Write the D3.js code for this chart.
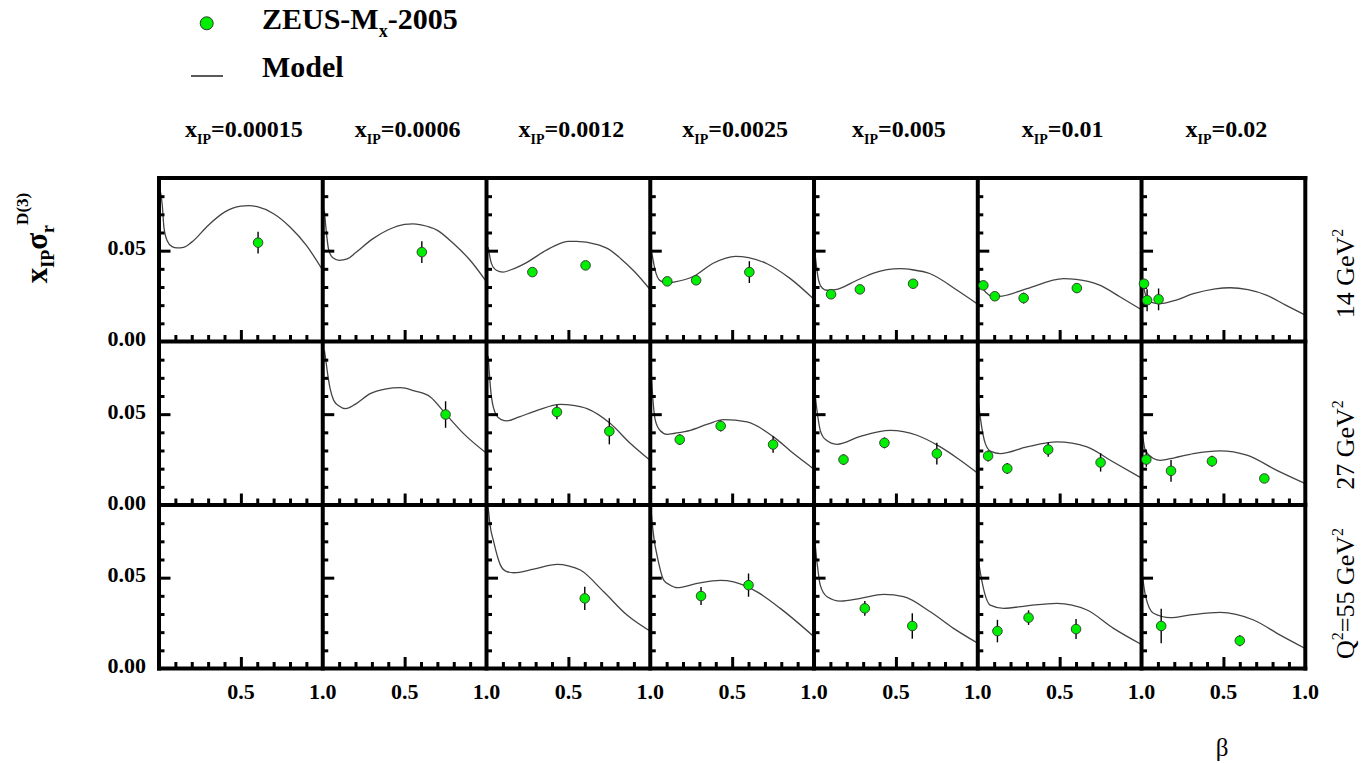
<!DOCTYPE html>
<html>
<head>
<meta charset="utf-8">
<script src="https://cdn.jsdelivr.net/npm/d3@7"></script>
<style>
  html, body { margin: 0; padding: 0; background: #fff; }
  svg text { font-family: "Liberation Serif", "Times New Roman", Times, serif; fill: #000; }
</style>
</head>
<body>
<svg id="chart" width="1366" height="763"></svg>
<script>
// x_IP values heading each column
const xipLabels = ["0.00015", "0.0006", "0.0012", "0.0025", "0.005", "0.01", "0.02"];

// Q^2 values labelling each row (segments: [text, isSuperscript])
const rowLabels = [
  [["14 GeV", 0], ["2", 1]],
  [["27 GeV", 0], ["2", 1]],
  [["Q", 0], ["2", 1], ["=55 GeV", 0], ["2", 1]]
];

// axis ticks
const yTickLabels = [0.00, 0.05];
const xTickLabels = [0.5, 1.0];
const yMinorTicks = [0.01, 0.02, 0.03, 0.04, 0.06, 0.07, 0.08];
const yMajorTicks = [0.05];
const xMinorTicks = [0.1, 0.2, 0.3, 0.4, 0.6, 0.7, 0.8, 0.9];
const xMajorTicks = [0.5];

// Model curves, [beta, x_IP*sigma_r] per column (null = no curve)
const modelQ14 = [
  [[0.01,0.082],[0.02,0.075],[0.03,0.063],[0.05,0.0555],[0.08,0.0522],[0.11,0.0515],[0.15,0.0518],[0.2,0.0547],[0.3,0.0639],[0.4,0.0712],[0.5,0.0745],[0.55,0.0748],[0.6,0.0742],[0.7,0.0703],[0.8,0.063],[0.9,0.0529],[1.0,0.0392]],
  [[0.01,0.072],[0.02,0.062],[0.035,0.051],[0.06,0.0462],[0.1,0.0447],[0.15,0.0455],[0.2,0.0488],[0.3,0.0562],[0.4,0.0615],[0.5,0.0645],[0.55,0.0648],[0.6,0.0642],[0.7,0.0612],[0.8,0.0538],[0.9,0.0447],[1.0,0.0328]],
  [[0.01,0.052],[0.03,0.043],[0.06,0.0392],[0.1,0.0382],[0.15,0.0395],[0.25,0.0437],[0.35,0.0495],[0.41,0.0524],[0.5,0.0551],[0.55,0.0551],[0.67,0.0535],[0.74,0.0511],[0.82,0.0456],[0.9,0.0388],[1.0,0.0285]],
  [[0.01,0.0485],[0.03,0.0392],[0.06,0.0335],[0.1,0.0322],[0.15,0.0328],[0.265,0.0359],[0.387,0.0432],[0.52,0.0469],[0.6,0.0462],[0.713,0.0428],[0.855,0.0346],[1.0,0.0232]],
  [[0.008,0.0465],[0.028,0.0337],[0.05,0.0295],[0.08,0.0282],[0.13,0.0285],[0.262,0.0337],[0.364,0.0377],[0.527,0.0401],[0.6,0.0395],[0.71,0.0373],[0.874,0.0282],[1.0,0.0205]],
  [[0.01,0.0335],[0.04,0.028],[0.07,0.0255],[0.1,0.0245],[0.15,0.025],[0.3,0.0291],[0.524,0.0346],[0.6,0.0342],[0.748,0.0309],[0.87,0.0245],[1.0,0.0175]],
  [[0.003,0.0355],[0.02,0.027],[0.033,0.0236],[0.06,0.0215],[0.114,0.0208],[0.2,0.0225],[0.317,0.0263],[0.45,0.029],[0.541,0.0296],[0.65,0.0285],[0.766,0.0254],[0.88,0.02],[1.0,0.0145]]
];
const modelQ27 = [
  null,
  [[0.01,0.085],[0.016,0.0815],[0.03,0.072],[0.045,0.064],[0.067,0.0576],[0.1,0.0545],[0.139,0.053],[0.2,0.0555],[0.29,0.0613],[0.38,0.0638],[0.474,0.0646],[0.56,0.0628],[0.657,0.0595],[0.749,0.0503],[0.86,0.0393],[1.0,0.0285]],
  [[0.01,0.082],[0.03,0.0595],[0.06,0.0494],[0.09,0.047],[0.126,0.0463],[0.2,0.0485],[0.309,0.0521],[0.451,0.0554],[0.53,0.0548],[0.614,0.053],[0.756,0.0448],[0.879,0.0338],[1.0,0.0245]],
  [[0.005,0.075],[0.011,0.065],[0.031,0.0466],[0.06,0.041],[0.102,0.0389],[0.15,0.0395],[0.245,0.0411],[0.35,0.0445],[0.448,0.047],[0.591,0.0457],[0.753,0.0375],[0.875,0.0283],[1.0,0.0197]],
  [[0.005,0.062],[0.018,0.0521],[0.038,0.0411],[0.07,0.036],[0.14,0.0334],[0.283,0.0378],[0.465,0.0411],[0.629,0.0384],[0.771,0.032],[0.88,0.0255],[1.0,0.0175]],
  [[0.005,0.056],[0.015,0.0485],[0.046,0.0338],[0.08,0.0295],[0.137,0.0283],[0.3,0.032],[0.483,0.0347],[0.667,0.032],[0.809,0.0246],[1.0,0.0148]],
  [[0.003,0.0411],[0.023,0.0301],[0.073,0.0256],[0.114,0.0246],[0.2,0.026],[0.317,0.0283],[0.48,0.0298],[0.643,0.0274],[0.826,0.0191],[1.0,0.0118]]
];
const modelQ55 = [
  null,
  null,
  [[0.008,0.089],[0.013,0.0862],[0.02,0.08],[0.044,0.0697],[0.085,0.0569],[0.12,0.0535],[0.166,0.0527],[0.288,0.0547],[0.431,0.0573],[0.5,0.0565],[0.573,0.0542],[0.716,0.0422],[0.858,0.0294],[1.0,0.0205]],
  [[0.006,0.086],[0.011,0.0807],[0.025,0.07],[0.041,0.0624],[0.082,0.0487],[0.12,0.046],[0.164,0.0445],[0.286,0.0468],[0.428,0.0485],[0.509,0.0477],[0.652,0.0422],[0.794,0.0331],[1.0,0.0175]],
  [[0.005,0.07],[0.018,0.0587],[0.038,0.0459],[0.08,0.0395],[0.161,0.0371],[0.283,0.0386],[0.425,0.0408],[0.547,0.0395],[0.71,0.0312],[0.852,0.0221],[1.0,0.0139]],
  [[0.005,0.0587],[0.026,0.0477],[0.076,0.0349],[0.158,0.0331],[0.3,0.0345],[0.483,0.0359],[0.667,0.0322],[0.829,0.0221],[1.0,0.0132]],
  [[0.003,0.0532],[0.023,0.0404],[0.073,0.0304],[0.175,0.028],[0.3,0.0295],[0.48,0.0309],[0.684,0.0267],[0.847,0.0184],[1.0,0.011]]
];

// ZEUS M_x measurements, [beta, x_IP*sigma_r, error] per column
const dataQ14 = [
  [[0.605,0.0544,0.006]],
  [[0.605,0.0492,0.006]],
  [[0.28,0.0382,0.0015],[0.605,0.0419,0.0015]],
  [[0.104,0.0331,0.0015],[0.28,0.0337,0.0015],[0.605,0.0382,0.006]],
  [[0.104,0.026,0.0015],[0.28,0.0287,0.002],[0.605,0.0318,0.002]],
  [[0.034,0.0309,0.0015],[0.104,0.0249,0.002],[0.28,0.0239,0.003],[0.605,0.0294,0.0015]],
  [[0.015,0.0318,0.0015],[0.034,0.0227,0.006],[0.104,0.0232,0.006]]
];
const dataQ27 = [
  [],
  [[0.75,0.0498,0.0073]],
  [[0.43,0.0512,0.004],[0.75,0.0406,0.0072]],
  [[0.18,0.036,0.003],[0.43,0.0435,0.003],[0.75,0.0333,0.0045]],
  [[0.18,0.025,0.003],[0.43,0.0342,0.003],[0.75,0.0283,0.006]],
  [[0.063,0.027,0.003],[0.18,0.0201,0.003],[0.43,0.0305,0.004],[0.75,0.0234,0.005]],
  [[0.029,0.025,0.004],[0.18,0.0188,0.006],[0.43,0.0241,0.003],[0.75,0.0146,0.002]]
];
const dataQ55 = [
  [],
  [],
  [[0.60,0.0386,0.0064]],
  [[0.31,0.0399,0.005],[0.60,0.0459,0.0064]],
  [[0.31,0.0331,0.004],[0.60,0.0234,0.007]],
  [[0.12,0.0206,0.0062],[0.31,0.028,0.004],[0.60,0.0217,0.0055]],
  [[0.12,0.0234,0.0095],[0.60,0.0153,0.003]]
];

const models = [modelQ14, modelQ27, modelQ55];
const measurements = [dataQ14, dataQ27, dataQ55];

// ---- layout ----
const svg = d3.select("#chart");
const gridLeft = 159, gridRight = 1305.3, gridTop = 178, gridBottom = 668.5;
const nCols = xipLabels.length, nRows = rowLabels.length;
const pw = (gridRight - gridLeft) / nCols;
const ph = (gridBottom - gridTop) / nRows;

const x = d3.scaleLinear().domain([0, 1]).range([0, pw]);
const y = d3.scaleLinear().domain([0, 0.09]).range([ph, 0]);

const markerFill = "#00ef00";
const line = d3.line().x(d => x(d[0])).y(d => y(d[1])).curve(d3.curveMonotoneX);

svg.append("defs").append("clipPath").attr("id", "panelClip")
  .append("rect").attr("x", 0).attr("y", 0).attr("width", pw).attr("height", ph);

const panels = svg.append("g");
for (let r = 0; r < nRows; r++) {
  for (let c = 0; c < nCols; c++) {
    const g = panels.append("g")
      .attr("transform", `translate(${gridLeft + c * pw},${gridTop + r * ph})`);
    const m = models[r][c];
    if (m) {
      g.append("path").datum(m)
        .attr("d", line)
        .attr("clip-path", "url(#panelClip)")
        .attr("fill", "none")
        .attr("stroke", "#444")
        .attr("stroke-width", 1.3);
    }
    // inward ticks
    const tickStyle = sel => {
      sel.select(".domain").remove();
      sel.selectAll(".tick line").attr("stroke", "#000").attr("stroke-width", 3);
      sel.selectAll(".tick text").remove();
    };
    g.append("g").attr("transform", `translate(0,${ph})`)
      .call(d3.axisBottom(x).tickValues(xMinorTicks).tickSize(-6.5)).call(tickStyle);
    g.append("g").attr("transform", `translate(0,${ph})`)
      .call(d3.axisBottom(x).tickValues(xMajorTicks).tickSize(-11.5)).call(tickStyle);
    g.append("g")
      .call(d3.axisLeft(y).tickValues(yMinorTicks).tickSize(-5.5)).call(tickStyle);
    g.append("g")
      .call(d3.axisLeft(y).tickValues(yMajorTicks).tickSize(-11.5)).call(tickStyle);
  }
}

// panel frame
const frame = svg.append("g").attr("stroke", "#000").attr("stroke-width", 4).attr("stroke-linecap", "square");
for (let c = 0; c <= nCols; c++) {
  frame.append("line").attr("x1", gridLeft + c * pw).attr("x2", gridLeft + c * pw)
    .attr("y1", gridTop).attr("y2", gridBottom);
}
for (let r = 0; r <= nRows; r++) {
  frame.append("line").attr("y1", gridTop + r * ph).attr("y2", gridTop + r * ph)
    .attr("x1", gridLeft).attr("x2", gridRight);
}

// measurements on top
for (let r = 0; r < nRows; r++) {
  for (let c = 0; c < nCols; c++) {
    const g = svg.append("g")
      .attr("transform", `translate(${gridLeft + c * pw},${gridTop + r * ph})`);
    const pts = measurements[r][c];
    g.selectAll("line.err").data(pts).join("line")
      .attr("class", "err")
      .attr("x1", d => x(d[0])).attr("x2", d => x(d[0]))
      .attr("y1", d => y(d[1] - d[2])).attr("y2", d => y(d[1] + d[2]))
      .attr("stroke", "#000").attr("stroke-width", 1.4);
    g.selectAll("circle").data(pts).join("circle")
      .attr("cx", d => x(d[0])).attr("cy", d => y(d[1])).attr("r", 4.8)
      .attr("fill", markerFill).attr("stroke", "#333").attr("stroke-width", 0.9);
  }
}

// y tick labels in each row
const fmt2 = d3.format(".2f"), fmt1 = d3.format(".1f");
for (let r = 0; r < nRows; r++) {
  svg.append("g").selectAll("text").data(yTickLabels).join("text")
    .attr("x", 146).attr("y", d => gridTop + r * ph + y(d) - 3)
    .attr("dy", "0.35em").attr("text-anchor", "end")
    .attr("font-size", 22).attr("font-weight", "bold")
    .text(d => fmt2(d));
}
// x tick labels below the bottom row
for (let c = 0; c < nCols; c++) {
  svg.append("g").selectAll("text").data(xTickLabels).join("text")
    .attr("x", d => gridLeft + c * pw + x(d)).attr("y", gridBottom + 30.5)
    .attr("text-anchor", "middle")
    .attr("font-size", 22).attr("font-weight", "bold")
    .text(d => fmt1(d));
}

// column headings x_IP = ...
xipLabels.forEach((lab, c) => {
  const t = svg.append("text")
    .attr("x", gridLeft + (c + 0.5) * pw + 3).attr("y", 137)
    .attr("text-anchor", "middle").attr("font-weight", "bold").attr("font-size", 24);
  t.append("tspan").text("x");
  t.append("tspan").attr("font-size", 14).attr("dy", 7).text("IP");
  t.append("tspan").attr("dy", -7).text("=" + lab);
});

// row labels on the right
const rowCenters = [273.5, 445, 593.5];
rowLabels.forEach((segs, r) => {
  const cx = 1354, cy = rowCenters[r];
  const t = svg.append("text")
    .attr("x", cx).attr("y", cy)
    .attr("transform", `rotate(-90,${cx},${cy})`)
    .attr("text-anchor", "middle").attr("font-size", 26);
  let shifted = false;
  segs.forEach(([s, sup]) => {
    const ts = t.append("tspan").text(s);
    if (sup) { ts.attr("font-size", 16).attr("dy", -11); shifted = true; }
    else if (shifted) { ts.attr("dy", 11); shifted = false; }
  });
});

// y axis title: x_IP sigma_r^D(3)
{
  const cx = 47, cy = 238;
  const t = svg.append("text")
    .attr("x", cx).attr("y", cy)
    .attr("transform", `rotate(-90,${cx},${cy})`)
    .attr("text-anchor", "middle").attr("font-weight", "bold").attr("font-size", 31);
  t.append("tspan").text("x");
  t.append("tspan").attr("font-size", 18).attr("dy", 7).text("IP");
  t.append("tspan").attr("dy", -7).text("σ");
  t.append("tspan").attr("font-size", 18).attr("dy", 7).text("r");
  t.append("tspan").attr("font-size", 17).attr("dy", -26).text("D(3)");
}

// x axis title
svg.append("text").attr("x", 1222).attr("y", 756)
  .attr("text-anchor", "middle").attr("font-size", 25).text("β");

// legend
const legend = svg.append("g");
legend.append("circle").attr("cx", 206.7).attr("cy", 23.3).attr("r", 6.5)
  .attr("fill", markerFill).attr("stroke", "#333").attr("stroke-width", 1);
{
  const t = legend.append("text").attr("x", 262).attr("y", 28.5)
    .attr("font-size", 30).attr("font-weight", "bold");
  t.append("tspan").text("ZEUS-M");
  t.append("tspan").attr("font-size", 18).attr("dy", 8).text("x");
  t.append("tspan").attr("dy", -8).text("-2005");
}
legend.append("line").attr("x1", 191).attr("x2", 223).attr("y1", 76).attr("y2", 76)
  .attr("stroke", "#222").attr("stroke-width", 1.5);
legend.append("text").attr("x", 262).attr("y", 76.5)
  .attr("font-size", 30).attr("font-weight", "bold").text("Model");
</script>
</body>
</html>
